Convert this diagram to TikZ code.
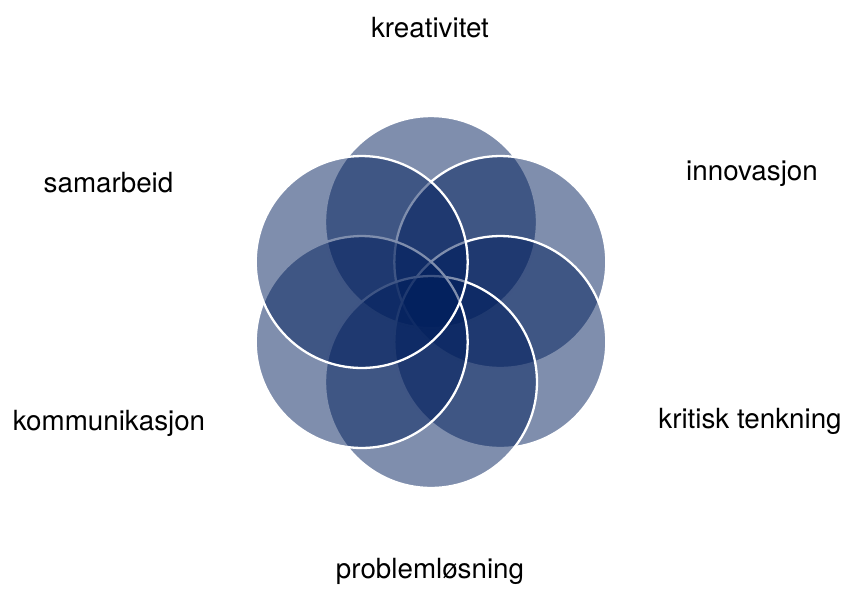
\documentclass[tikz,border=0pt]{standalone}
\usepackage{fontspec}
\setmainfont{TeX Gyre Heros}
\definecolor{ringblue}{RGB}{0,30,92}

\tikzset{
  ring/.style={circle,draw=white,line width=1.3pt,fill=ringblue,fill opacity=0.5,
    minimum size=4.24cm,inner sep=0pt},
  skill/.style={anchor=base,text=black,font=\fontsize{15.8}{18}\selectfont}
}

\begin{document}
\begin{tikzpicture}[x=0.02cm,y=-0.02cm]
        \useasboundingbox (0,0) rectangle (847,589);

        % the six rings, clockwise from the top
        \node[ring] (kreativ) at (431,222){};
        \node[ring] (innov) at (500.3,262){};
        \node[ring] (kritisk) at (500.3,342){};
        \node[ring] (problem) at (431,382){};
        \node[ring] (kommun) at (361.7,342){};
        \node[ring] (samarb) at (361.7,262){};

        \node[skill] (tkreativ) at (430,37){kreativitet};
        \node[skill] (tinnov) at (752,180){innovasjon};
        \node[skill] (tkritisk) at (750,428){kritisk tenkning};
        \node[skill] (tproblem) at (430,578){problemløsning};
        \node[skill] (tkommun) at (109,430){kommunikasjon};
        \node[skill] (tsamarb) at (108.5,192){samarbeid};
    \end{tikzpicture}
\end{document}
